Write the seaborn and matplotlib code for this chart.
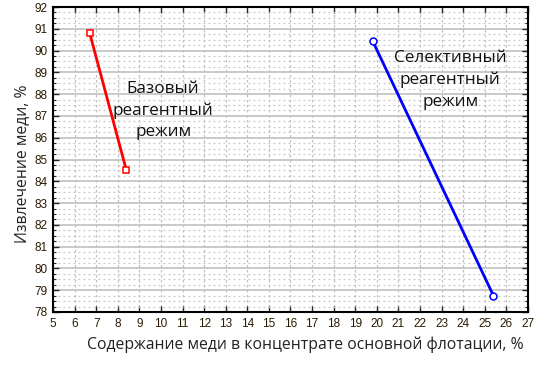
import matplotlib
matplotlib.use("Agg")
import matplotlib.pyplot as plt
import seaborn as sns
import pandas as pd
from matplotlib.ticker import MultipleLocator

# Data
base_x = [6.7, 8.4]
base_y = [90.8, 84.5]
sel_x = [19.8, 25.4]
sel_y = [90.45, 78.75]
x_ticks = list(range(5, 28))
y_ticks = list(range(78, 93))
x_label = "Содержание меди в концентрате основной флотации, %"
y_label = "Извлечение меди, %"
base_text = "Базовый\nреагентный\nрежим"
sel_text = "Селективный\nреагентный\nрежим"

sns.set_style("white")
plt.rcParams['font.family'] = ['Open Sans', 'DejaVu Sans']

df_base = pd.DataFrame({"x": base_x, "y": base_y})
df_sel = pd.DataFrame({"x": sel_x, "y": sel_y})

fig = plt.figure(figsize=(5.39, 3.67), dpi=100)
ax = fig.add_axes([53/539, 1-312/367, (528-53)/539, (312-7)/367])

ax.set_xlim(5, 27)
ax.set_ylim(78, 92)
ax.set_xticks(x_ticks)
ax.set_yticks(y_ticks)
ax.yaxis.set_minor_locator(MultipleLocator(0.25))

ax.grid(True, which='major', axis='y', color='#c0c0c0', lw=1.2, ls='-')
ax.grid(True, which='minor', axis='y', color='#c8c8c8', lw=0.9, ls=(0, (1.5, 2.5)))
ax.grid(True, which='major', axis='x', color='#c0c0c0', lw=0.9, ls=(0, (2, 2)))
ax.set_axisbelow(True)

sns.lineplot(data=df_base, x="x", y="y", ax=ax, color='red', lw=2,
             marker='s', markersize=5, markerfacecolor='white',
             markeredgecolor='red', markeredgewidth=1.1)
sns.lineplot(data=df_sel, x="x", y="y", ax=ax, color='blue', lw=2,
             marker='o', markersize=5, markerfacecolor='white',
             markeredgecolor='blue', markeredgewidth=1.1)

for s in ax.spines.values():
    s.set_color('black')
    s.set_linewidth(1.5)
    s.set_visible(True)

ax.tick_params(which='major', direction='in', length=4, width=1,
               top=True, right=True, bottom=True, left=True,
               labelsize=8.5, pad=4)
ax.tick_params(which='minor', direction='in', length=2, width=0.8,
               left=True, right=True)
for lbl in ax.get_xticklabels() + ax.get_yticklabels():
    lbl.set_fontfamily('Liberation Sans')
    lbl.set_color('#2a1a00')

ax.set_xlabel(x_label, fontsize=11.3, color='#222222')
ax.xaxis.set_label_coords((305-53)/(528-53), -(345-312)/(312-7))
ax.xaxis.label.set_va('center')
ax.set_ylabel(y_label, fontsize=11.3, color='#222222')
ax.yaxis.set_label_coords(-(53-22)/(528-53), (312-164)/(312-7))
ax.yaxis.label.set_va('center')

ax.text(10.1, 87.25, base_text, ha='center', va='center', fontsize=12.3,
        color='#111111', linespacing=1.45)
ax.text(23.4, 88.65, sel_text, ha='center', va='center', fontsize=12.3,
        color='#111111', linespacing=1.45)

fig.savefig("out.png", dpi=100)
